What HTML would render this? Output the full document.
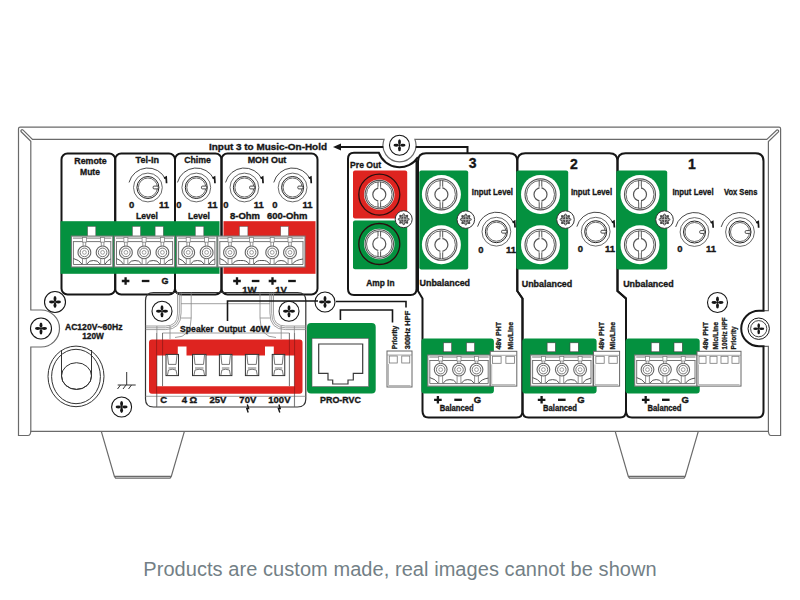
<!DOCTYPE html>
<html><head><meta charset="utf-8"><style>
html,body{margin:0;padding:0;background:#fff;}
body{width:800px;height:600px;position:relative;overflow:hidden;font-family:"Liberation Sans",sans-serif;}
svg{position:absolute;left:0;top:0;}
.cap{position:absolute;left:0;width:800px;top:557px;text-align:center;font-size:20px;letter-spacing:0.06px;color:#737f86;line-height:24px;white-space:nowrap;}
</style></head><body>
<svg width="800" height="600" viewBox="0 0 800 600" font-family="Liberation Sans, sans-serif">
<g fill="none" stroke="#6a6a6a" stroke-width="1.2">
<path d="M30.8,431.3 Q30.6,435.5 28,435.5 L18.5,435.5 L18.5,128.8 Q18.5,127.2 20.2,127.2 L779,127.2 Q780.6,127.2 780.6,128.8 L780.6,435.5 L771,435.5 Q768.6,435.5 768.4,431.3"/>
<path d="M30.8,432 L30.8,347 L41,347 A18.5,18.5 0 0 0 41,310 L30.8,310 L30.8,141.2 L21.2,131.8 A1.3,1.3 0 0 1 22.9,129.9 L32.5,139.4 L384.1,139.4 A16.5,16.5 0 1 0 414.9,139.4 L766.8,139.4 L776.8,130 A1.3,1.3 0 0 1 778.4,131.9 L768.4,141.6 L768.4,310.7 L764,310.7 M764,346.3 L768.4,346.3 L768.4,432"/>
<path d="M30.6,431.3 L768.6,431.3"/>
<path d="M101.3,431.3 L114.4,476.3 L171.3,476.3 L184.4,431.3 M114.4,476.3 L115.6,478.1 L170.1,478.1 L171.3,476.3"/>
<path d="M615.2,431.3 L628.3,476.3 L685.2,476.3 L698.3,431.3 M628.3,476.3 L629.5,478.1 L684,478.1 L685.2,476.3"/>
</g>
<g fill="none" stroke="#161616" stroke-width="2">
<rect x="61.5" y="153.5" width="53.7" height="141" rx="6"/>
<rect x="115.2" y="153.5" width="59.8" height="141" rx="6"/>
<rect x="175" y="153.5" width="46.5" height="141" rx="6"/>
<rect x="221.5" y="153.5" width="96.0" height="141" rx="6"/>
<path d="M348,159 Q348,152.7 354,152.7 L378.8,152.7 A22,22 0 0 0 418,157.1 M416.5,160 L416.5,289 Q416.5,295 410.5,295 L354,295 Q348,295 348,289 L348,159"/>
<path d="M422.5,411 L422.5,298.5 L418,291 L418,161.2 Q418,153.2 426,153.2 L509.29999999999995,153.2 Q517.3,153.2 517.3,161.2 L517.3,291 L522.5,298.5 L522.5,411 Q522.5,417.5 516.5,417.5 L428.5,417.5 Q422.5,417.5 422.5,411"/>
<path d="M522.5,411 L522.5,298.5 L517.3,291 L517.3,161.2 Q517.3,153.2 525.3,153.2 L609.5,153.2 Q617.5,153.2 617.5,161.2 L617.5,291 L626,298.5 L626,411 Q626,417.5 620,417.5 L528.5,417.5 Q522.5,417.5 522.5,411"/>
<path d="M626,411 L626,298.5 L617.5,291 L617.5,161.2 Q617.5,153.2 625.5,153.2 L755.5,153.2 Q763.5,153.2 763.5,161.2 L763.5,310.7 L759,310.7 A17.8,17.8 0 0 0 759,346.3 L763.5,346.3 L763.5,411 Q763.5,417.5 757.5,417.5 L632,417.5 Q626,417.5 626,411"/>
</g>
<path d="M340,147 L383.2,147 M415.8,147 L467.5,147 L467.5,153.2" fill="none" stroke="#161616" stroke-width="2"/>
<path d="M333,147 L341,143.5 L341,150.5 Z" fill="#161616"/>
<rect x="60.5" y="221.2" width="159" height="52.6" fill="#04913f"/>
<rect x="223.5" y="221.2" width="92" height="52.6" fill="#de2420"/>
<rect x="353" y="170.6" width="54.2" height="48" rx="2" fill="#de2420"/>
<rect x="353" y="220.6" width="54.2" height="48.6" rx="2" fill="#04913f"/>
<rect x="419.3" y="170.4" width="48.9" height="99.2" rx="2" fill="#04913f"/>
<rect x="516.3" y="170.4" width="51.9" height="99.2" rx="2" fill="#04913f"/>
<rect x="616.3" y="170.4" width="50.9" height="99.2" rx="2" fill="#04913f"/>
<rect x="421.4" y="338.4" width="72.5" height="55.1" rx="3" fill="#04913f"/>
<rect x="522.3" y="338.4" width="74.3" height="55.1" rx="3" fill="#04913f"/>
<rect x="625.5" y="338.4" width="74.2" height="55.1" rx="3" fill="#04913f"/>
<rect x="307" y="323" width="68.7" height="70.5" rx="4" fill="#04913f"/>
<circle cx="399.5" cy="145.3" r="10" fill="#fff" stroke="#161616" stroke-width="1.1"/>
<g fill="#161616"><ellipse cx="396.2" cy="145.3" rx="2.7" ry="1.45"/><ellipse cx="402.8" cy="145.3" rx="2.7" ry="1.45"/><ellipse cx="399.5" cy="142.0" rx="1.45" ry="2.7"/><ellipse cx="399.5" cy="148.60000000000002" rx="1.45" ry="2.7"/></g>
<path d="M398.3,145.3 L400.7,145.3 M399.5,144.10000000000002 L399.5,146.5" stroke="#161616" stroke-width="0.9"/>
<circle cx="41" cy="328.5" r="10.5" fill="#fff" stroke="#161616" stroke-width="1.1"/>
<g fill="#161616"><ellipse cx="37.7" cy="328.5" rx="2.7" ry="1.45"/><ellipse cx="44.3" cy="328.5" rx="2.7" ry="1.45"/><ellipse cx="41" cy="325.2" rx="1.45" ry="2.7"/><ellipse cx="41" cy="331.8" rx="1.45" ry="2.7"/></g>
<path d="M39.8,328.5 L42.2,328.5 M41,327.3 L41,329.7" stroke="#161616" stroke-width="0.9"/>
<circle cx="55" cy="302" r="10.5" fill="#fff" stroke="#161616" stroke-width="1.1"/>
<g fill="#161616"><ellipse cx="51.7" cy="302" rx="2.7" ry="1.45"/><ellipse cx="58.3" cy="302" rx="2.7" ry="1.45"/><ellipse cx="55" cy="298.7" rx="1.45" ry="2.7"/><ellipse cx="55" cy="305.3" rx="1.45" ry="2.7"/></g>
<path d="M53.8,302 L56.2,302 M55,300.8 L55,303.2" stroke="#161616" stroke-width="0.9"/>
<circle cx="121.6" cy="407" r="10" fill="#fff" stroke="#161616" stroke-width="1.1"/>
<g fill="#161616"><ellipse cx="118.3" cy="407" rx="2.7" ry="1.45"/><ellipse cx="124.89999999999999" cy="407" rx="2.7" ry="1.45"/><ellipse cx="121.6" cy="403.7" rx="1.45" ry="2.7"/><ellipse cx="121.6" cy="410.3" rx="1.45" ry="2.7"/></g>
<path d="M120.39999999999999,407 L122.8,407 M121.6,405.8 L121.6,408.2" stroke="#161616" stroke-width="0.9"/>
<circle cx="162" cy="311.3" r="10" fill="#fff" stroke="#161616" stroke-width="1.1"/>
<g fill="#161616"><ellipse cx="158.7" cy="311.3" rx="2.7" ry="1.45"/><ellipse cx="165.3" cy="311.3" rx="2.7" ry="1.45"/><ellipse cx="162" cy="308.0" rx="1.45" ry="2.7"/><ellipse cx="162" cy="314.6" rx="1.45" ry="2.7"/></g>
<path d="M160.8,311.3 L163.2,311.3 M162,310.1 L162,312.5" stroke="#161616" stroke-width="0.9"/>
<circle cx="289" cy="311.3" r="10" fill="#fff" stroke="#161616" stroke-width="1.1"/>
<g fill="#161616"><ellipse cx="285.7" cy="311.3" rx="2.7" ry="1.45"/><ellipse cx="292.3" cy="311.3" rx="2.7" ry="1.45"/><ellipse cx="289" cy="308.0" rx="1.45" ry="2.7"/><ellipse cx="289" cy="314.6" rx="1.45" ry="2.7"/></g>
<path d="M287.8,311.3 L290.2,311.3 M289,310.1 L289,312.5" stroke="#161616" stroke-width="0.9"/>
<circle cx="325" cy="302" r="10" fill="#fff" stroke="#161616" stroke-width="1.1"/>
<g fill="#161616"><ellipse cx="321.7" cy="302" rx="2.7" ry="1.45"/><ellipse cx="328.3" cy="302" rx="2.7" ry="1.45"/><ellipse cx="325" cy="298.7" rx="1.45" ry="2.7"/><ellipse cx="325" cy="305.3" rx="1.45" ry="2.7"/></g>
<path d="M323.8,302 L326.2,302 M325,300.8 L325,303.2" stroke="#161616" stroke-width="0.9"/>
<circle cx="717.5" cy="302.5" r="10" fill="#fff" stroke="#161616" stroke-width="1.1"/>
<g fill="#161616"><ellipse cx="714.2" cy="302.5" rx="2.7" ry="1.45"/><ellipse cx="720.8" cy="302.5" rx="2.7" ry="1.45"/><ellipse cx="717.5" cy="299.2" rx="1.45" ry="2.7"/><ellipse cx="717.5" cy="305.8" rx="1.45" ry="2.7"/></g>
<path d="M716.3,302.5 L718.7,302.5 M717.5,301.3 L717.5,303.7" stroke="#161616" stroke-width="0.9"/>
<circle cx="758.7" cy="328.7" r="10.7" fill="#fff" stroke="#161616" stroke-width="1"/>
<circle cx="758.7" cy="328.7" r="8.1" fill="none" stroke="#161616" stroke-width="0.8"/>
<g fill="#161616"><ellipse cx="755.7" cy="328.7" rx="2.5" ry="1.3"/><ellipse cx="761.7" cy="328.7" rx="2.5" ry="1.3"/><ellipse cx="758.7" cy="325.7" rx="1.3" ry="2.5"/><ellipse cx="758.7" cy="331.7" rx="1.3" ry="2.5"/></g>
<path d="M757.5,328.7 L759.9000000000001,328.7 M758.7,327.5 L758.7,329.9" stroke="#161616" stroke-width="0.9"/>
<path d="M129.06,182.45 A19.5,19.5 0 0 1 165.57,179.26" fill="none" stroke="#333" stroke-width="0.9"/>
<path d="M164.07,178.26 L166.17,177.06 L166.57,183.26" fill="none" stroke="#161616" stroke-width="1.7"/>
<circle cx="147.9" cy="187.5" r="14.4" fill="none" stroke="#444" stroke-width="0.8"/>
<circle cx="147.9" cy="187.5" r="11" fill="#fff" stroke="#222" stroke-width="1.0"/>
<circle cx="147.9" cy="187.5" r="9.5" fill="none" stroke="#444" stroke-width="0.8"/>
<rect x="153.1" y="186.1" width="5.2" height="2.8" rx="1" fill="#fff" stroke="#333" stroke-width="0.9"/>
<path d="M177.46,182.45 A19.5,19.5 0 0 1 213.97,179.26" fill="none" stroke="#333" stroke-width="0.9"/>
<path d="M212.47,178.26 L214.57,177.06 L214.97,183.26" fill="none" stroke="#161616" stroke-width="1.7"/>
<circle cx="196.3" cy="187.5" r="14.4" fill="none" stroke="#444" stroke-width="0.8"/>
<circle cx="196.3" cy="187.5" r="11" fill="#fff" stroke="#222" stroke-width="1.0"/>
<circle cx="196.3" cy="187.5" r="9.5" fill="none" stroke="#444" stroke-width="0.8"/>
<rect x="201.5" y="186.1" width="5.2" height="2.8" rx="1" fill="#fff" stroke="#333" stroke-width="0.9"/>
<path d="M225.56,182.45 A19.5,19.5 0 0 1 262.07,179.26" fill="none" stroke="#333" stroke-width="0.9"/>
<path d="M260.57,178.26 L262.67,177.06 L263.07,183.26" fill="none" stroke="#161616" stroke-width="1.7"/>
<circle cx="244.4" cy="187.5" r="14.4" fill="none" stroke="#444" stroke-width="0.8"/>
<circle cx="244.4" cy="187.5" r="11" fill="#fff" stroke="#222" stroke-width="1.0"/>
<circle cx="244.4" cy="187.5" r="9.5" fill="none" stroke="#444" stroke-width="0.8"/>
<rect x="249.6" y="186.1" width="5.2" height="2.8" rx="1" fill="#fff" stroke="#333" stroke-width="0.9"/>
<path d="M273.76,182.45 A19.5,19.5 0 0 1 310.27,179.26" fill="none" stroke="#333" stroke-width="0.9"/>
<path d="M308.77,178.26 L310.87,177.06 L311.27,183.26" fill="none" stroke="#161616" stroke-width="1.7"/>
<circle cx="292.6" cy="187.5" r="14.4" fill="none" stroke="#444" stroke-width="0.8"/>
<circle cx="292.6" cy="187.5" r="11" fill="#fff" stroke="#222" stroke-width="1.0"/>
<circle cx="292.6" cy="187.5" r="9.5" fill="none" stroke="#444" stroke-width="0.8"/>
<rect x="297.8" y="186.1" width="5.2" height="2.8" rx="1" fill="#fff" stroke="#333" stroke-width="0.9"/>
<path d="M477.56,226.65 A19.5,19.5 0 0 1 514.07,223.46" fill="none" stroke="#333" stroke-width="0.9"/>
<path d="M512.57,222.46 L514.67,221.26 L515.07,227.46" fill="none" stroke="#161616" stroke-width="1.7"/>
<circle cx="496.4" cy="231.7" r="14.4" fill="none" stroke="#444" stroke-width="0.8"/>
<circle cx="496.4" cy="231.7" r="11" fill="#fff" stroke="#222" stroke-width="1.0"/>
<circle cx="496.4" cy="231.7" r="9.5" fill="none" stroke="#444" stroke-width="0.8"/>
<rect x="501.59999999999997" y="230.29999999999998" width="5.2" height="2.8" rx="1" fill="#fff" stroke="#333" stroke-width="0.9"/>
<path d="M576.86,226.65 A19.5,19.5 0 0 1 613.37,223.46" fill="none" stroke="#333" stroke-width="0.9"/>
<path d="M611.87,222.46 L613.97,221.26 L614.37,227.46" fill="none" stroke="#161616" stroke-width="1.7"/>
<circle cx="595.7" cy="231.7" r="14.4" fill="none" stroke="#444" stroke-width="0.8"/>
<circle cx="595.7" cy="231.7" r="11" fill="#fff" stroke="#222" stroke-width="1.0"/>
<circle cx="595.7" cy="231.7" r="9.5" fill="none" stroke="#444" stroke-width="0.8"/>
<rect x="600.9000000000001" y="230.29999999999998" width="5.2" height="2.8" rx="1" fill="#fff" stroke="#333" stroke-width="0.9"/>
<path d="M675.66,226.95 A19.5,19.5 0 0 1 712.17,223.76" fill="none" stroke="#333" stroke-width="0.9"/>
<path d="M710.67,222.76 L712.77,221.56 L713.17,227.76" fill="none" stroke="#161616" stroke-width="1.7"/>
<circle cx="694.5" cy="232" r="14.4" fill="none" stroke="#444" stroke-width="0.8"/>
<circle cx="694.5" cy="232" r="11" fill="#fff" stroke="#222" stroke-width="1.0"/>
<circle cx="694.5" cy="232" r="9.5" fill="none" stroke="#444" stroke-width="0.8"/>
<rect x="699.7" y="230.6" width="5.2" height="2.8" rx="1" fill="#fff" stroke="#333" stroke-width="0.9"/>
<path d="M721.16,226.95 A19.5,19.5 0 0 1 757.67,223.76" fill="none" stroke="#333" stroke-width="0.9"/>
<path d="M756.17,222.76 L758.27,221.56 L758.67,227.76" fill="none" stroke="#161616" stroke-width="1.7"/>
<circle cx="740" cy="232" r="14.4" fill="none" stroke="#444" stroke-width="0.8"/>
<circle cx="740" cy="232" r="11" fill="#fff" stroke="#222" stroke-width="1.0"/>
<circle cx="740" cy="232" r="9.5" fill="none" stroke="#444" stroke-width="0.8"/>
<rect x="745.2" y="230.6" width="5.2" height="2.8" rx="1" fill="#fff" stroke="#333" stroke-width="0.9"/>
<circle cx="379.3" cy="194.6" r="20.5" fill="none" stroke="#2a0f0f" stroke-width="1.3"/>
<circle cx="379.3" cy="194.6" r="15.2" fill="#fff"/>
<circle cx="379.3" cy="194.6" r="14.2" fill="none" stroke="#555" stroke-width="1.1"/>
<circle cx="379.3" cy="194.6" r="12.8" fill="none" stroke="#666" stroke-width="1"/>
<circle cx="379.3" cy="194.6" r="6.5" fill="none" stroke="#555" stroke-width="1.2"/>
<path d="M378.0,188.1 L378.0,181.79999999999998 M380.6,188.1 L380.6,181.79999999999998 M378.0,201.1 L378.0,207.4 M380.6,201.1 L380.6,207.4" stroke="#555" stroke-width="1"/>
<rect x="378.3" y="186.6" width="2" height="3" fill="#fff"/>
<rect x="378.3" y="199.6" width="2" height="3" fill="#fff"/>
<circle cx="379.3" cy="244" r="20.5" fill="none" stroke="#2a0f0f" stroke-width="1.3"/>
<circle cx="379.3" cy="244" r="15.2" fill="#fff"/>
<circle cx="379.3" cy="244" r="14.2" fill="none" stroke="#555" stroke-width="1.1"/>
<circle cx="379.3" cy="244" r="12.8" fill="none" stroke="#666" stroke-width="1"/>
<circle cx="379.3" cy="244" r="6.5" fill="none" stroke="#555" stroke-width="1.2"/>
<path d="M378.0,237.5 L378.0,231.2 M380.6,237.5 L380.6,231.2 M378.0,250.5 L378.0,256.8 M380.6,250.5 L380.6,256.8" stroke="#555" stroke-width="1"/>
<rect x="378.3" y="236.0" width="2" height="3" fill="#fff"/>
<rect x="378.3" y="249.0" width="2" height="3" fill="#fff"/>
<circle cx="441.4" cy="194.4" r="19.5" fill="#fff"/>
<circle cx="441.4" cy="194.4" r="15.5" fill="none" stroke="#555" stroke-width="1.1"/>
<circle cx="441.4" cy="194.4" r="14" fill="none" stroke="#666" stroke-width="1"/>
<circle cx="441.4" cy="194.4" r="6.5" fill="none" stroke="#555" stroke-width="1.2"/>
<path d="M440.09999999999997,187.9 L440.09999999999997,180.4 M442.7,187.9 L442.7,180.4 M440.09999999999997,200.9 L440.09999999999997,208.4 M442.7,200.9 L442.7,208.4" stroke="#555" stroke-width="1"/>
<rect x="440.4" y="186.4" width="2" height="3" fill="#fff"/>
<rect x="440.4" y="199.4" width="2" height="3" fill="#fff"/>
<circle cx="441.4" cy="244.8" r="19.5" fill="#fff"/>
<circle cx="441.4" cy="244.8" r="15.5" fill="none" stroke="#555" stroke-width="1.1"/>
<circle cx="441.4" cy="244.8" r="14" fill="none" stroke="#666" stroke-width="1"/>
<circle cx="441.4" cy="244.8" r="6.5" fill="none" stroke="#555" stroke-width="1.2"/>
<path d="M440.09999999999997,238.3 L440.09999999999997,230.8 M442.7,238.3 L442.7,230.8 M440.09999999999997,251.3 L440.09999999999997,258.8 M442.7,251.3 L442.7,258.8" stroke="#555" stroke-width="1"/>
<rect x="440.4" y="236.8" width="2" height="3" fill="#fff"/>
<rect x="440.4" y="249.8" width="2" height="3" fill="#fff"/>
<circle cx="540.5" cy="194.4" r="19.5" fill="#fff"/>
<circle cx="540.5" cy="194.4" r="15.5" fill="none" stroke="#555" stroke-width="1.1"/>
<circle cx="540.5" cy="194.4" r="14" fill="none" stroke="#666" stroke-width="1"/>
<circle cx="540.5" cy="194.4" r="6.5" fill="none" stroke="#555" stroke-width="1.2"/>
<path d="M539.2,187.9 L539.2,180.4 M541.8,187.9 L541.8,180.4 M539.2,200.9 L539.2,208.4 M541.8,200.9 L541.8,208.4" stroke="#555" stroke-width="1"/>
<rect x="539.5" y="186.4" width="2" height="3" fill="#fff"/>
<rect x="539.5" y="199.4" width="2" height="3" fill="#fff"/>
<circle cx="540.5" cy="244.8" r="19.5" fill="#fff"/>
<circle cx="540.5" cy="244.8" r="15.5" fill="none" stroke="#555" stroke-width="1.1"/>
<circle cx="540.5" cy="244.8" r="14" fill="none" stroke="#666" stroke-width="1"/>
<circle cx="540.5" cy="244.8" r="6.5" fill="none" stroke="#555" stroke-width="1.2"/>
<path d="M539.2,238.3 L539.2,230.8 M541.8,238.3 L541.8,230.8 M539.2,251.3 L539.2,258.8 M541.8,251.3 L541.8,258.8" stroke="#555" stroke-width="1"/>
<rect x="539.5" y="236.8" width="2" height="3" fill="#fff"/>
<rect x="539.5" y="249.8" width="2" height="3" fill="#fff"/>
<circle cx="640" cy="194.4" r="19.5" fill="#fff"/>
<circle cx="640" cy="194.4" r="15.5" fill="none" stroke="#555" stroke-width="1.1"/>
<circle cx="640" cy="194.4" r="14" fill="none" stroke="#666" stroke-width="1"/>
<circle cx="640" cy="194.4" r="6.5" fill="none" stroke="#555" stroke-width="1.2"/>
<path d="M638.7,187.9 L638.7,180.4 M641.3,187.9 L641.3,180.4 M638.7,200.9 L638.7,208.4 M641.3,200.9 L641.3,208.4" stroke="#555" stroke-width="1"/>
<rect x="639.0" y="186.4" width="2" height="3" fill="#fff"/>
<rect x="639.0" y="199.4" width="2" height="3" fill="#fff"/>
<circle cx="640" cy="244.8" r="19.5" fill="#fff"/>
<circle cx="640" cy="244.8" r="15.5" fill="none" stroke="#555" stroke-width="1.1"/>
<circle cx="640" cy="244.8" r="14" fill="none" stroke="#666" stroke-width="1"/>
<circle cx="640" cy="244.8" r="6.5" fill="none" stroke="#555" stroke-width="1.2"/>
<path d="M638.7,238.3 L638.7,230.8 M641.3,238.3 L641.3,230.8 M638.7,251.3 L638.7,258.8 M641.3,251.3 L641.3,258.8" stroke="#555" stroke-width="1"/>
<rect x="639.0" y="236.8" width="2" height="3" fill="#fff"/>
<rect x="639.0" y="249.8" width="2" height="3" fill="#fff"/>
<circle cx="403.7" cy="219.2" r="8.5" fill="#fff" stroke="#333" stroke-width="1"/>
<g transform="translate(403.7,219.2)" fill="#4a4a4a"><ellipse cx="0" cy="0" rx="6" ry="2.1" transform="rotate(0)"/><ellipse cx="0" cy="0" rx="6" ry="2.1" transform="rotate(45)"/><ellipse cx="0" cy="0" rx="6" ry="2.1" transform="rotate(90)"/><ellipse cx="0" cy="0" rx="6" ry="2.1" transform="rotate(135)"/></g>
<path d="M398.7,219.2 L408.7,219.2 M403.7,214.2 L403.7,224.2" stroke="#ddd" stroke-width="0.7"/>
<circle cx="403.7" cy="219.2" r="3.2" fill="none" stroke="#ccc" stroke-width="0.6"/>
<circle cx="465.8" cy="219.6" r="8.8" fill="#fff" stroke="#333" stroke-width="1"/>
<g transform="translate(465.8,219.6)" fill="#4a4a4a"><ellipse cx="0" cy="0" rx="6" ry="2.1" transform="rotate(0)"/><ellipse cx="0" cy="0" rx="6" ry="2.1" transform="rotate(45)"/><ellipse cx="0" cy="0" rx="6" ry="2.1" transform="rotate(90)"/><ellipse cx="0" cy="0" rx="6" ry="2.1" transform="rotate(135)"/></g>
<path d="M460.8,219.6 L470.8,219.6 M465.8,214.6 L465.8,224.6" stroke="#ddd" stroke-width="0.7"/>
<circle cx="465.8" cy="219.6" r="3.2" fill="none" stroke="#ccc" stroke-width="0.6"/>
<circle cx="565.5" cy="219.6" r="8.8" fill="#fff" stroke="#333" stroke-width="1"/>
<g transform="translate(565.5,219.6)" fill="#4a4a4a"><ellipse cx="0" cy="0" rx="6" ry="2.1" transform="rotate(0)"/><ellipse cx="0" cy="0" rx="6" ry="2.1" transform="rotate(45)"/><ellipse cx="0" cy="0" rx="6" ry="2.1" transform="rotate(90)"/><ellipse cx="0" cy="0" rx="6" ry="2.1" transform="rotate(135)"/></g>
<path d="M560.5,219.6 L570.5,219.6 M565.5,214.6 L565.5,224.6" stroke="#ddd" stroke-width="0.7"/>
<circle cx="565.5" cy="219.6" r="3.2" fill="none" stroke="#ccc" stroke-width="0.6"/>
<circle cx="664.5" cy="219.6" r="8.8" fill="#fff" stroke="#333" stroke-width="1"/>
<g transform="translate(664.5,219.6)" fill="#4a4a4a"><ellipse cx="0" cy="0" rx="6" ry="2.1" transform="rotate(0)"/><ellipse cx="0" cy="0" rx="6" ry="2.1" transform="rotate(45)"/><ellipse cx="0" cy="0" rx="6" ry="2.1" transform="rotate(90)"/><ellipse cx="0" cy="0" rx="6" ry="2.1" transform="rotate(135)"/></g>
<path d="M659.5,219.6 L669.5,219.6 M664.5,214.6 L664.5,224.6" stroke="#ddd" stroke-width="0.7"/>
<circle cx="664.5" cy="219.6" r="3.2" fill="none" stroke="#ccc" stroke-width="0.6"/>
<rect x="87.6" y="226.4" width="8.200000000000003" height="10" fill="#fff" stroke="#555" stroke-width="0.5"/>
<rect x="132.4" y="226.4" width="8.099999999999994" height="10" fill="#fff" stroke="#555" stroke-width="0.5"/>
<rect x="155.1" y="226.4" width="8.200000000000017" height="10" fill="#fff" stroke="#555" stroke-width="0.5"/>
<rect x="195.3" y="226.4" width="8.5" height="10" fill="#fff" stroke="#555" stroke-width="0.5"/>
<rect x="239.4" y="226.4" width="8.5" height="10" fill="#fff" stroke="#555" stroke-width="0.5"/>
<rect x="280.7" y="226.4" width="7.800000000000011" height="10" fill="#fff" stroke="#555" stroke-width="0.5"/>
<rect x="71.4" y="236.1" width="41.39999999999999" height="30.900000000000006" fill="#fff" stroke="#777" stroke-width="1.1"/>
<path d="M72.9,238.1 L111.3,238.1 M72.9,241.6 L111.3,241.6" stroke="#666" stroke-width="0.9"/>
<path d="M73.4,241.6 L73.4,264.5 L110.8,264.5 L110.8,241.6" fill="none" stroke="#666" stroke-width="0.9"/>
<rect x="82.4" y="237.6" width="4" height="4.5" fill="#fff" stroke="#777" stroke-width="0.7"/>
<path d="M83.10000000000001,242.1 L83.10000000000001,246.3843 M85.7,242.1 L85.7,246.3843 M82.5,258.3843 L82.5,264.5 M86.30000000000001,258.3843 L86.30000000000001,264.5" stroke="#777" stroke-width="0.8"/>
<circle cx="84.4" cy="252.3843" r="6.4" fill="#fff" stroke="#666" stroke-width="1.1"/>
<circle cx="84.4" cy="252.3843" r="4.3" fill="none" stroke="#777" stroke-width="1"/>
<circle cx="84.4" cy="252.3843" r="1.9" fill="none" stroke="#888" stroke-width="0.8"/>
<rect x="100.6" y="237.6" width="4" height="4.5" fill="#fff" stroke="#777" stroke-width="0.7"/>
<path d="M101.3,242.1 L101.3,246.3843 M103.89999999999999,242.1 L103.89999999999999,246.3843 M100.69999999999999,258.3843 L100.69999999999999,264.5 M104.5,258.3843 L104.5,264.5" stroke="#777" stroke-width="0.8"/>
<circle cx="102.6" cy="252.3843" r="6.4" fill="#fff" stroke="#666" stroke-width="1.1"/>
<circle cx="102.6" cy="252.3843" r="4.3" fill="none" stroke="#777" stroke-width="1"/>
<circle cx="102.6" cy="252.3843" r="1.9" fill="none" stroke="#888" stroke-width="0.8"/>
<path d="M73.4,258.5 Q79.4,260 81.9,264 M86.9,264 Q89.4,260 93.5,260.5 Q97.6,260 100.1,264 M105.1,264 Q107.6,260 110.8,259" fill="none" stroke="#555" stroke-width="1"/>
<rect x="114.5" y="236.1" width="60.099999999999994" height="30.900000000000006" fill="#fff" stroke="#777" stroke-width="1.1"/>
<path d="M116.0,238.1 L173.1,238.1 M116.0,241.6 L173.1,241.6" stroke="#666" stroke-width="0.9"/>
<path d="M116.5,241.6 L116.5,264.5 L172.6,264.5 L172.6,241.6" fill="none" stroke="#666" stroke-width="0.9"/>
<rect x="123.9" y="237.6" width="4" height="4.5" fill="#fff" stroke="#777" stroke-width="0.7"/>
<path d="M124.60000000000001,242.1 L124.60000000000001,246.3843 M127.2,242.1 L127.2,246.3843 M124.0,258.3843 L124.0,264.5 M127.80000000000001,258.3843 L127.80000000000001,264.5" stroke="#777" stroke-width="0.8"/>
<circle cx="125.9" cy="252.3843" r="6.4" fill="#fff" stroke="#666" stroke-width="1.1"/>
<circle cx="125.9" cy="252.3843" r="4.3" fill="none" stroke="#777" stroke-width="1"/>
<circle cx="125.9" cy="252.3843" r="1.9" fill="none" stroke="#888" stroke-width="0.8"/>
<rect x="142.1" y="237.6" width="4" height="4.5" fill="#fff" stroke="#777" stroke-width="0.7"/>
<path d="M142.79999999999998,242.1 L142.79999999999998,246.3843 M145.4,242.1 L145.4,246.3843 M142.2,258.3843 L142.2,264.5 M146.0,258.3843 L146.0,264.5" stroke="#777" stroke-width="0.8"/>
<circle cx="144.1" cy="252.3843" r="6.4" fill="#fff" stroke="#666" stroke-width="1.1"/>
<circle cx="144.1" cy="252.3843" r="4.3" fill="none" stroke="#777" stroke-width="1"/>
<circle cx="144.1" cy="252.3843" r="1.9" fill="none" stroke="#888" stroke-width="0.8"/>
<rect x="160.4" y="237.6" width="4" height="4.5" fill="#fff" stroke="#777" stroke-width="0.7"/>
<path d="M161.1,242.1 L161.1,246.3843 M163.70000000000002,242.1 L163.70000000000002,246.3843 M160.5,258.3843 L160.5,264.5 M164.3,258.3843 L164.3,264.5" stroke="#777" stroke-width="0.8"/>
<circle cx="162.4" cy="252.3843" r="6.4" fill="#fff" stroke="#666" stroke-width="1.1"/>
<circle cx="162.4" cy="252.3843" r="4.3" fill="none" stroke="#777" stroke-width="1"/>
<circle cx="162.4" cy="252.3843" r="1.9" fill="none" stroke="#888" stroke-width="0.8"/>
<path d="M116.5,258.5 Q120.9,260 123.4,264 M128.4,264 Q130.9,260 135.0,260.5 Q139.1,260 141.6,264 M146.6,264 Q149.1,260 153.25,260.5 Q157.4,260 159.9,264 M164.9,264 Q167.4,260 172.6,259" fill="none" stroke="#555" stroke-width="1"/>
<rect x="176.6" y="236.1" width="40.30000000000001" height="30.900000000000006" fill="#fff" stroke="#777" stroke-width="1.1"/>
<path d="M178.1,238.1 L215.4,238.1 M178.1,241.6 L215.4,241.6" stroke="#666" stroke-width="0.9"/>
<path d="M178.6,241.6 L178.6,264.5 L214.9,264.5 L214.9,241.6" fill="none" stroke="#666" stroke-width="0.9"/>
<rect x="186.2" y="237.6" width="4" height="4.5" fill="#fff" stroke="#777" stroke-width="0.7"/>
<path d="M186.89999999999998,242.1 L186.89999999999998,246.3843 M189.5,242.1 L189.5,246.3843 M186.29999999999998,258.3843 L186.29999999999998,264.5 M190.1,258.3843 L190.1,264.5" stroke="#777" stroke-width="0.8"/>
<circle cx="188.2" cy="252.3843" r="6.4" fill="#fff" stroke="#666" stroke-width="1.1"/>
<circle cx="188.2" cy="252.3843" r="4.3" fill="none" stroke="#777" stroke-width="1"/>
<circle cx="188.2" cy="252.3843" r="1.9" fill="none" stroke="#888" stroke-width="0.8"/>
<rect x="204.6" y="237.6" width="4" height="4.5" fill="#fff" stroke="#777" stroke-width="0.7"/>
<path d="M205.29999999999998,242.1 L205.29999999999998,246.3843 M207.9,242.1 L207.9,246.3843 M204.7,258.3843 L204.7,264.5 M208.5,258.3843 L208.5,264.5" stroke="#777" stroke-width="0.8"/>
<circle cx="206.6" cy="252.3843" r="6.4" fill="#fff" stroke="#666" stroke-width="1.1"/>
<circle cx="206.6" cy="252.3843" r="4.3" fill="none" stroke="#777" stroke-width="1"/>
<circle cx="206.6" cy="252.3843" r="1.9" fill="none" stroke="#888" stroke-width="0.8"/>
<path d="M178.6,258.5 Q183.2,260 185.7,264 M190.7,264 Q193.2,260 197.39999999999998,260.5 Q201.6,260 204.1,264 M209.1,264 Q211.6,260 214.9,259" fill="none" stroke="#555" stroke-width="1"/>
<rect x="217.8" y="236.1" width="87.19999999999999" height="30.900000000000006" fill="#fff" stroke="#777" stroke-width="1.1"/>
<path d="M219.3,238.1 L303.5,238.1 M219.3,241.6 L303.5,241.6" stroke="#666" stroke-width="0.9"/>
<path d="M219.8,241.6 L219.8,264.5 L303,264.5 L303,241.6" fill="none" stroke="#666" stroke-width="0.9"/>
<rect x="228" y="237.6" width="4" height="4.5" fill="#fff" stroke="#777" stroke-width="0.7"/>
<path d="M228.7,242.1 L228.7,246.3843 M231.3,242.1 L231.3,246.3843 M228.1,258.3843 L228.1,264.5 M231.9,258.3843 L231.9,264.5" stroke="#777" stroke-width="0.8"/>
<circle cx="230" cy="252.3843" r="6.4" fill="#fff" stroke="#666" stroke-width="1.1"/>
<circle cx="230" cy="252.3843" r="4.3" fill="none" stroke="#777" stroke-width="1"/>
<circle cx="230" cy="252.3843" r="1.9" fill="none" stroke="#888" stroke-width="0.8"/>
<rect x="249.6" y="237.6" width="4" height="4.5" fill="#fff" stroke="#777" stroke-width="0.7"/>
<path d="M250.29999999999998,242.1 L250.29999999999998,246.3843 M252.9,242.1 L252.9,246.3843 M249.7,258.3843 L249.7,264.5 M253.5,258.3843 L253.5,264.5" stroke="#777" stroke-width="0.8"/>
<circle cx="251.6" cy="252.3843" r="6.4" fill="#fff" stroke="#666" stroke-width="1.1"/>
<circle cx="251.6" cy="252.3843" r="4.3" fill="none" stroke="#777" stroke-width="1"/>
<circle cx="251.6" cy="252.3843" r="1.9" fill="none" stroke="#888" stroke-width="0.8"/>
<rect x="270.2" y="237.6" width="4" height="4.5" fill="#fff" stroke="#777" stroke-width="0.7"/>
<path d="M270.9,242.1 L270.9,246.3843 M273.5,242.1 L273.5,246.3843 M270.3,258.3843 L270.3,264.5 M274.09999999999997,258.3843 L274.09999999999997,264.5" stroke="#777" stroke-width="0.8"/>
<circle cx="272.2" cy="252.3843" r="6.4" fill="#fff" stroke="#666" stroke-width="1.1"/>
<circle cx="272.2" cy="252.3843" r="4.3" fill="none" stroke="#777" stroke-width="1"/>
<circle cx="272.2" cy="252.3843" r="1.9" fill="none" stroke="#888" stroke-width="0.8"/>
<rect x="288" y="237.6" width="4" height="4.5" fill="#fff" stroke="#777" stroke-width="0.7"/>
<path d="M288.7,242.1 L288.7,246.3843 M291.3,242.1 L291.3,246.3843 M288.1,258.3843 L288.1,264.5 M291.9,258.3843 L291.9,264.5" stroke="#777" stroke-width="0.8"/>
<circle cx="290" cy="252.3843" r="6.4" fill="#fff" stroke="#666" stroke-width="1.1"/>
<circle cx="290" cy="252.3843" r="4.3" fill="none" stroke="#777" stroke-width="1"/>
<circle cx="290" cy="252.3843" r="1.9" fill="none" stroke="#888" stroke-width="0.8"/>
<path d="M219.8,258.5 Q225,260 227.5,264 M232.5,264 Q235,260 240.8,260.5 Q246.6,260 249.1,264 M254.1,264 Q256.6,260 261.9,260.5 Q267.2,260 269.7,264 M274.7,264 Q277.2,260 281.1,260.5 Q285,260 287.5,264 M292.5,264 Q295,260 303,259" fill="none" stroke="#555" stroke-width="1"/>
<rect x="443.4" y="342.8" width="8.300000000000011" height="9" fill="#fff" stroke="#444" stroke-width="0.6"/>
<rect x="466.4" y="342.8" width="8.200000000000045" height="9" fill="#fff" stroke="#444" stroke-width="0.6"/>
<rect x="427.8" y="355" width="62.39999999999998" height="31.100000000000023" fill="#fff" stroke="#777" stroke-width="1.1"/>
<path d="M429.3,357 L488.7,357 M429.3,360.5 L488.7,360.5" stroke="#666" stroke-width="0.9"/>
<path d="M429.8,360.5 L429.8,383.6 L488.2,383.6 L488.2,360.5" fill="none" stroke="#666" stroke-width="0.9"/>
<rect x="438.7" y="356.5" width="4" height="4.5" fill="#fff" stroke="#777" stroke-width="0.7"/>
<path d="M439.4,361 L439.4,363.617 M442.0,361 L442.0,363.617 M438.8,375.617 L438.8,383.6 M442.59999999999997,375.617 L442.59999999999997,383.6" stroke="#777" stroke-width="0.8"/>
<circle cx="440.7" cy="369.617" r="6.4" fill="#fff" stroke="#666" stroke-width="1.1"/>
<circle cx="440.7" cy="369.617" r="4.3" fill="none" stroke="#777" stroke-width="1"/>
<circle cx="440.7" cy="369.617" r="1.9" fill="none" stroke="#888" stroke-width="0.8"/>
<rect x="457" y="356.5" width="4" height="4.5" fill="#fff" stroke="#777" stroke-width="0.7"/>
<path d="M457.7,361 L457.7,363.617 M460.3,361 L460.3,363.617 M457.1,375.617 L457.1,383.6 M460.9,375.617 L460.9,383.6" stroke="#777" stroke-width="0.8"/>
<circle cx="459" cy="369.617" r="6.4" fill="#fff" stroke="#666" stroke-width="1.1"/>
<circle cx="459" cy="369.617" r="4.3" fill="none" stroke="#777" stroke-width="1"/>
<circle cx="459" cy="369.617" r="1.9" fill="none" stroke="#888" stroke-width="0.8"/>
<rect x="474.5" y="356.5" width="4" height="4.5" fill="#fff" stroke="#777" stroke-width="0.7"/>
<path d="M475.2,361 L475.2,363.617 M477.8,361 L477.8,363.617 M474.6,375.617 L474.6,383.6 M478.4,375.617 L478.4,383.6" stroke="#777" stroke-width="0.8"/>
<circle cx="476.5" cy="369.617" r="6.4" fill="#fff" stroke="#666" stroke-width="1.1"/>
<circle cx="476.5" cy="369.617" r="4.3" fill="none" stroke="#777" stroke-width="1"/>
<circle cx="476.5" cy="369.617" r="1.9" fill="none" stroke="#888" stroke-width="0.8"/>
<path d="M429.8,377.6 Q435.7,379.1 438.2,383.1 M443.2,383.1 Q445.7,379.1 449.85,379.6 Q454,379.1 456.5,383.1 M461.5,383.1 Q464,379.1 467.75,379.6 Q471.5,379.1 474.0,383.1 M479.0,383.1 Q481.5,379.1 488.2,378.1" fill="none" stroke="#555" stroke-width="1"/>
<rect x="490.2" y="351.3" width="26.599999999999966" height="34.80000000000001" fill="#fff" stroke="#666" stroke-width="1"/>
<path d="M490.2,355.3 L516.8,355.3" stroke="#888" stroke-width="0.7"/>
<rect x="492.59" y="356.3" width="8.51" height="7" fill="#fff" stroke="#777" stroke-width="0.8"/>
<rect x="505.89" y="356.3" width="8.51" height="7" fill="#fff" stroke="#777" stroke-width="0.8"/>
<path d="M491.7,364.3 L491.7,384.6 L515.3,384.6" fill="none" stroke="#999" stroke-width="0.7"/>
<rect x="547.1" y="342.8" width="8.299999999999955" height="9" fill="#fff" stroke="#444" stroke-width="0.6"/>
<rect x="570" y="342.8" width="8.299999999999955" height="9" fill="#fff" stroke="#444" stroke-width="0.6"/>
<rect x="530.6" y="355" width="62.39999999999998" height="31.100000000000023" fill="#fff" stroke="#777" stroke-width="1.1"/>
<path d="M532.1,357 L591.5,357 M532.1,360.5 L591.5,360.5" stroke="#666" stroke-width="0.9"/>
<path d="M532.6,360.5 L532.6,383.6 L591,383.6 L591,360.5" fill="none" stroke="#666" stroke-width="0.9"/>
<rect x="541.4" y="356.5" width="4" height="4.5" fill="#fff" stroke="#777" stroke-width="0.7"/>
<path d="M542.1,361 L542.1,363.617 M544.6999999999999,361 L544.6999999999999,363.617 M541.5,375.617 L541.5,383.6 M545.3,375.617 L545.3,383.6" stroke="#777" stroke-width="0.8"/>
<circle cx="543.4" cy="369.617" r="6.4" fill="#fff" stroke="#666" stroke-width="1.1"/>
<circle cx="543.4" cy="369.617" r="4.3" fill="none" stroke="#777" stroke-width="1"/>
<circle cx="543.4" cy="369.617" r="1.9" fill="none" stroke="#888" stroke-width="0.8"/>
<rect x="559.8" y="356.5" width="4" height="4.5" fill="#fff" stroke="#777" stroke-width="0.7"/>
<path d="M560.5,361 L560.5,363.617 M563.0999999999999,361 L563.0999999999999,363.617 M559.9,375.617 L559.9,383.6 M563.6999999999999,375.617 L563.6999999999999,383.6" stroke="#777" stroke-width="0.8"/>
<circle cx="561.8" cy="369.617" r="6.4" fill="#fff" stroke="#666" stroke-width="1.1"/>
<circle cx="561.8" cy="369.617" r="4.3" fill="none" stroke="#777" stroke-width="1"/>
<circle cx="561.8" cy="369.617" r="1.9" fill="none" stroke="#888" stroke-width="0.8"/>
<rect x="578.1" y="356.5" width="4" height="4.5" fill="#fff" stroke="#777" stroke-width="0.7"/>
<path d="M578.8000000000001,361 L578.8000000000001,363.617 M581.4,361 L581.4,363.617 M578.2,375.617 L578.2,383.6 M582.0,375.617 L582.0,383.6" stroke="#777" stroke-width="0.8"/>
<circle cx="580.1" cy="369.617" r="6.4" fill="#fff" stroke="#666" stroke-width="1.1"/>
<circle cx="580.1" cy="369.617" r="4.3" fill="none" stroke="#777" stroke-width="1"/>
<circle cx="580.1" cy="369.617" r="1.9" fill="none" stroke="#888" stroke-width="0.8"/>
<path d="M532.6,377.6 Q538.4,379.1 540.9,383.1 M545.9,383.1 Q548.4,379.1 552.5999999999999,379.6 Q556.8,379.1 559.3,383.1 M564.3,383.1 Q566.8,379.1 570.95,379.6 Q575.1,379.1 577.6,383.1 M582.6,383.1 Q585.1,379.1 591,378.1" fill="none" stroke="#555" stroke-width="1"/>
<rect x="593.5" y="351.3" width="26.100000000000023" height="34.80000000000001" fill="#fff" stroke="#666" stroke-width="1"/>
<path d="M593.5,355.3 L619.6,355.3" stroke="#888" stroke-width="0.7"/>
<rect x="595.85" y="356.3" width="8.35" height="7" fill="#fff" stroke="#777" stroke-width="0.8"/>
<rect x="608.90" y="356.3" width="8.35" height="7" fill="#fff" stroke="#777" stroke-width="0.8"/>
<path d="M595.0,364.3 L595.0,384.6 L618.1,384.6" fill="none" stroke="#999" stroke-width="0.7"/>
<rect x="651.2" y="342.8" width="8.199999999999932" height="9" fill="#fff" stroke="#444" stroke-width="0.6"/>
<rect x="674" y="342.8" width="8.299999999999955" height="9" fill="#fff" stroke="#444" stroke-width="0.6"/>
<rect x="634.7" y="355" width="62.299999999999955" height="31.100000000000023" fill="#fff" stroke="#777" stroke-width="1.1"/>
<path d="M636.2,357 L695.5,357 M636.2,360.5 L695.5,360.5" stroke="#666" stroke-width="0.9"/>
<path d="M636.7,360.5 L636.7,383.6 L695,383.6 L695,360.5" fill="none" stroke="#666" stroke-width="0.9"/>
<rect x="645.5" y="356.5" width="4" height="4.5" fill="#fff" stroke="#777" stroke-width="0.7"/>
<path d="M646.2,361 L646.2,363.617 M648.8,361 L648.8,363.617 M645.6,375.617 L645.6,383.6 M649.4,375.617 L649.4,383.6" stroke="#777" stroke-width="0.8"/>
<circle cx="647.5" cy="369.617" r="6.4" fill="#fff" stroke="#666" stroke-width="1.1"/>
<circle cx="647.5" cy="369.617" r="4.3" fill="none" stroke="#777" stroke-width="1"/>
<circle cx="647.5" cy="369.617" r="1.9" fill="none" stroke="#888" stroke-width="0.8"/>
<rect x="662.9" y="356.5" width="4" height="4.5" fill="#fff" stroke="#777" stroke-width="0.7"/>
<path d="M663.6,361 L663.6,363.617 M666.1999999999999,361 L666.1999999999999,363.617 M663.0,375.617 L663.0,383.6 M666.8,375.617 L666.8,383.6" stroke="#777" stroke-width="0.8"/>
<circle cx="664.9" cy="369.617" r="6.4" fill="#fff" stroke="#666" stroke-width="1.1"/>
<circle cx="664.9" cy="369.617" r="4.3" fill="none" stroke="#777" stroke-width="1"/>
<circle cx="664.9" cy="369.617" r="1.9" fill="none" stroke="#888" stroke-width="0.8"/>
<rect x="681.2" y="356.5" width="4" height="4.5" fill="#fff" stroke="#777" stroke-width="0.7"/>
<path d="M681.9000000000001,361 L681.9000000000001,363.617 M684.5,361 L684.5,363.617 M681.3000000000001,375.617 L681.3000000000001,383.6 M685.1,375.617 L685.1,383.6" stroke="#777" stroke-width="0.8"/>
<circle cx="683.2" cy="369.617" r="6.4" fill="#fff" stroke="#666" stroke-width="1.1"/>
<circle cx="683.2" cy="369.617" r="4.3" fill="none" stroke="#777" stroke-width="1"/>
<circle cx="683.2" cy="369.617" r="1.9" fill="none" stroke="#888" stroke-width="0.8"/>
<path d="M636.7,377.6 Q642.5,379.1 645.0,383.1 M650.0,383.1 Q652.5,379.1 656.2,379.6 Q659.9,379.1 662.4,383.1 M667.4,383.1 Q669.9,379.1 674.05,379.6 Q678.2,379.1 680.7,383.1 M685.7,383.1 Q688.2,379.1 695,378.1" fill="none" stroke="#555" stroke-width="1"/>
<rect x="697" y="351.3" width="44" height="34.80000000000001" fill="#fff" stroke="#666" stroke-width="1"/>
<path d="M697,355.3 L741,355.3" stroke="#888" stroke-width="0.7"/>
<rect x="698.98" y="356.3" width="7.04" height="7" fill="#fff" stroke="#777" stroke-width="0.8"/>
<rect x="709.98" y="356.3" width="7.04" height="7" fill="#fff" stroke="#777" stroke-width="0.8"/>
<rect x="720.98" y="356.3" width="7.04" height="7" fill="#fff" stroke="#777" stroke-width="0.8"/>
<rect x="731.98" y="356.3" width="7.04" height="7" fill="#fff" stroke="#777" stroke-width="0.8"/>
<path d="M698.5,364.3 L698.5,384.6 L739.5,384.6" fill="none" stroke="#999" stroke-width="0.7"/>
<g fill="none" stroke="#555" stroke-width="1">
<path d="M153.5,407 Q145.5,407 145.5,399 L145.5,300.5 Q145.5,292.5 153.5,292.5 L297.5,292.5 Q305.8,292.5 305.8,300.5 L305.8,399 Q305.8,407 297.5,407 Z" stroke="#333" stroke-width="1.2"/>
</g>
<g fill="none" stroke="#888" stroke-width="0.8">
<path d="M177.5,292.5 L177.5,314.0 Q177.5,326 165.5,326 L145.5,326"/>
<path d="M273.5,292.5 L273.5,314.0 Q273.5,326 285.5,326 L305.8,326"/>
<path d="M179.3,292.5 L179.3,313.46 Q179.3,327.8 165.5,327.8 L145.5,327.8"/>
<path d="M271.7,292.5 L271.7,313.46 Q271.7,327.8 285.5,327.8 L305.8,327.8"/>
<path d="M181.1,292.5 L181.1,312.92 Q181.1,329.6 165.5,329.6 L145.5,329.6"/>
<path d="M269.9,292.5 L269.9,312.92 Q269.9,329.6 285.5,329.6 L305.8,329.6"/>
<path d="M191.2,292.5 L191.2,318 Q191.2,337.5 175,337.5 M260,292.5 L260,318 Q260,337.5 276,337.5"/>
<path d="M181,303.7 L270,303.7 M181,318 L191.2,318 M260,318 L270,318"/>
<path d="M162.5,333 L289.4,333 M156.9,326 L156.9,407 M162.5,333 L162.5,386 M170,326 L170,339 M289.4,333 L289.4,386 M294.4,326 L294.4,407 M281.2,326 L281.2,339 M145.5,396.3 L305.8,396.3"/>
</g>
<path d="M152,339.4 L299.5,339.4 Q302.5,339.4 302.5,342.4 L302.5,390.8 Q302.5,393.8 299.5,393.8 L152,393.8 Q149,393.8 149,390.8 L149,342.4 Q149,339.4 152,339.4 Z M156.9,355.6 L156.9,386.2 L294.4,386.2 L294.4,355.6 L273.8,355.6 L273.8,346.5 L265,346.5 L265,355.6 L186.5,355.6 L186.5,346.5 L177.8,346.5 L177.8,355.6 Z" fill="#de2420" fill-rule="evenodd"/>
<path d="M156.6,333 L156.6,407 M162.6,333 L162.6,386.2 M289.4,333 L289.4,386.2 M294.6,333 L294.6,407" stroke="#000" stroke-opacity="0.35" stroke-width="0.8"/>
<rect x="166" y="354.4" width="12.50" height="21.2" fill="#fff" stroke="#333" stroke-width="1"/>
<path d="M167.5,355 L168.5,364.4 L176.0,364.4 L177.0,355 M168.5,368 L176.0,368 M167.5,375 L168.5,370 Q172.25,368.5 176.0,370 L177.0,375" fill="none" stroke="#555" stroke-width="0.8"/>
<rect x="192.5" y="354.4" width="13.50" height="21.2" fill="#fff" stroke="#333" stroke-width="1"/>
<path d="M194.0,355 L195.0,364.4 L203.5,364.4 L204.5,355 M195.0,368 L203.5,368 M194.0,375 L195.0,370 Q199.25,368.5 203.5,370 L204.5,375" fill="none" stroke="#555" stroke-width="0.8"/>
<rect x="219.4" y="354.4" width="12.50" height="21.2" fill="#fff" stroke="#333" stroke-width="1"/>
<path d="M220.9,355 L221.9,364.4 L229.4,364.4 L230.4,355 M221.9,368 L229.4,368 M220.9,375 L221.9,370 Q225.65,368.5 229.4,370 L230.4,375" fill="none" stroke="#555" stroke-width="0.8"/>
<rect x="245.4" y="354.4" width="13.35" height="21.2" fill="#fff" stroke="#333" stroke-width="1"/>
<path d="M246.9,355 L247.9,364.4 L256.25,364.4 L257.25,355 M247.9,368 L256.25,368 M246.9,375 L247.9,370 Q252.075,368.5 256.25,370 L257.25,375" fill="none" stroke="#555" stroke-width="0.8"/>
<rect x="272.25" y="354.4" width="12.50" height="21.2" fill="#fff" stroke="#333" stroke-width="1"/>
<path d="M273.75,355 L274.75,364.4 L282.25,364.4 L283.25,355 M274.75,368 L282.25,368 M273.75,375 L274.75,370 Q278.5,368.5 282.25,370 L283.25,375" fill="none" stroke="#555" stroke-width="0.8"/>
<path d="M227.5,321 L227.5,301 L318,301" fill="none" stroke="#161616" stroke-width="1.6"/>
<rect x="312" y="338.3" width="56.7" height="48.4" fill="#fff" stroke="#555" stroke-width="0.6"/>
<path d="M318.7,344 L362.7,344 L362.7,373.3 L353.3,373.3 L353.3,380 L348,380 L348,384 L332.7,384 L332.7,380 L328,380 L328,373.3 L318.7,373.3 Z" fill="none" stroke="#3a3a3a" stroke-width="1.2"/>
<path d="M336,301.5 L406,301.5 L406,307.5 M340.4,320 L340.4,310 L392.5,310 L392.5,322.5" fill="none" stroke="#161616" stroke-width="1.6"/>
<rect x="387" y="351" width="25" height="36" fill="#fff" stroke="#666" stroke-width="1"/>
<path d="M387,355 L412,355" stroke="#888" stroke-width="0.7"/>
<rect x="389.25" y="356" width="8.00" height="7" fill="#fff" stroke="#777" stroke-width="0.8"/>
<rect x="401.75" y="356" width="8.00" height="7" fill="#fff" stroke="#777" stroke-width="0.8"/>
<path d="M388.5,364 L388.5,385.5 L410.5,385.5" fill="none" stroke="#999" stroke-width="0.7"/>
<g fill="none" stroke="#333" stroke-width="1">
<ellipse cx="76" cy="376.4" rx="28" ry="30.3"/>
<ellipse cx="76" cy="376.5" rx="24.4" ry="27.2"/>
<path d="M61.5,350 L61.5,376 A15,13.5 0 0 0 91.5,376 L91.5,350"/>
<ellipse cx="76.5" cy="376" rx="15" ry="13.3"/>
</g>
<path d="M126.7,372 L126.7,385 M117.7,385 L135.7,385 M120.5,385 L117.5,389 M126,385 L123,389 M131.5,385 L128.5,389" fill="none" stroke="#333" stroke-width="1"/>
<text x="90.50" y="164.46" font-size="9.6" font-weight="bold" fill="#161616" stroke="#161616" stroke-width="0.35" text-anchor="middle" textLength="32.5" lengthAdjust="spacingAndGlyphs">Remote</text>
<text x="90.00" y="174.76" font-size="9.6" font-weight="bold" fill="#161616" stroke="#161616" stroke-width="0.35" text-anchor="middle" textLength="20" lengthAdjust="spacingAndGlyphs">Mute</text>
<text x="147.30" y="163.06" font-size="9.6" font-weight="bold" fill="#161616" stroke="#161616" stroke-width="0.35" text-anchor="middle" textLength="23.4" lengthAdjust="spacingAndGlyphs">Tel-In</text>
<text x="197.60" y="162.86" font-size="9.6" font-weight="bold" fill="#161616" stroke="#161616" stroke-width="0.35" text-anchor="middle" textLength="26.8" lengthAdjust="spacingAndGlyphs">Chime</text>
<text x="267.00" y="162.96" font-size="9.6" font-weight="bold" fill="#161616" stroke="#161616" stroke-width="0.35" text-anchor="middle" textLength="38.7" lengthAdjust="spacingAndGlyphs">MOH Out</text>
<text x="131.70" y="208.42" font-size="9.5" font-weight="bold" fill="#161616" stroke="#161616" stroke-width="0.35" text-anchor="middle">0</text>
<text x="164.00" y="208.42" font-size="9.5" font-weight="bold" fill="#161616" stroke="#161616" stroke-width="0.35" text-anchor="middle">11</text>
<text x="179.00" y="208.42" font-size="9.5" font-weight="bold" fill="#161616" stroke="#161616" stroke-width="0.35" text-anchor="middle">0</text>
<text x="212.60" y="208.42" font-size="9.5" font-weight="bold" fill="#161616" stroke="#161616" stroke-width="0.35" text-anchor="middle">11</text>
<text x="226.00" y="208.42" font-size="9.5" font-weight="bold" fill="#161616" stroke="#161616" stroke-width="0.35" text-anchor="middle">0</text>
<text x="258.70" y="208.42" font-size="9.5" font-weight="bold" fill="#161616" stroke="#161616" stroke-width="0.35" text-anchor="middle">11</text>
<text x="275.00" y="208.42" font-size="9.5" font-weight="bold" fill="#161616" stroke="#161616" stroke-width="0.35" text-anchor="middle">0</text>
<text x="307.50" y="208.42" font-size="9.5" font-weight="bold" fill="#161616" stroke="#161616" stroke-width="0.35" text-anchor="middle">11</text>
<text x="147.00" y="218.96" font-size="9.6" font-weight="bold" fill="#161616" stroke="#161616" stroke-width="0.35" text-anchor="middle" textLength="22" lengthAdjust="spacingAndGlyphs">Level</text>
<text x="199.00" y="218.96" font-size="9.6" font-weight="bold" fill="#161616" stroke="#161616" stroke-width="0.35" text-anchor="middle" textLength="22" lengthAdjust="spacingAndGlyphs">Level</text>
<text x="245.00" y="219.46" font-size="9.6" font-weight="bold" fill="#161616" stroke="#161616" stroke-width="0.35" text-anchor="middle" textLength="30" lengthAdjust="spacingAndGlyphs">8-Ohm</text>
<text x="287.20" y="219.46" font-size="9.6" font-weight="bold" fill="#161616" stroke="#161616" stroke-width="0.35" text-anchor="middle" textLength="40.5" lengthAdjust="spacingAndGlyphs">600-Ohm</text>
<text x="268.00" y="150.46" font-size="9.6" font-weight="bold" fill="#161616" stroke="#161616" stroke-width="0.35" text-anchor="middle" textLength="118" lengthAdjust="spacingAndGlyphs">Input 3 to Music-On-Hold</text>
<text x="365.60" y="167.96" font-size="9.6" font-weight="bold" fill="#161616" stroke="#161616" stroke-width="0.35" text-anchor="middle" textLength="31" lengthAdjust="spacingAndGlyphs">Pre Out</text>
<text x="380.40" y="285.96" font-size="9.6" font-weight="bold" fill="#161616" stroke="#161616" stroke-width="0.35" text-anchor="middle" textLength="28.3" lengthAdjust="spacingAndGlyphs">Amp In</text>
<text x="472.70" y="167.54" font-size="14" font-weight="bold" fill="#161616" stroke="#161616" stroke-width="0.35" text-anchor="middle">3</text>
<text x="574.00" y="168.54" font-size="14" font-weight="bold" fill="#161616" stroke="#161616" stroke-width="0.35" text-anchor="middle">2</text>
<text x="692.00" y="168.54" font-size="14" font-weight="bold" fill="#161616" stroke="#161616" stroke-width="0.35" text-anchor="middle">1</text>
<text x="492.40" y="195.22" font-size="9.5" font-weight="bold" fill="#161616" stroke="#161616" stroke-width="0.35" text-anchor="middle" textLength="41.2" lengthAdjust="spacingAndGlyphs">Input Level</text>
<text x="591.50" y="195.22" font-size="9.5" font-weight="bold" fill="#161616" stroke="#161616" stroke-width="0.35" text-anchor="middle" textLength="41.2" lengthAdjust="spacingAndGlyphs">Input Level</text>
<text x="693.00" y="195.22" font-size="9.5" font-weight="bold" fill="#161616" stroke="#161616" stroke-width="0.35" text-anchor="middle" textLength="41.2" lengthAdjust="spacingAndGlyphs">Input Level</text>
<text x="740.70" y="195.22" font-size="9.5" font-weight="bold" fill="#161616" stroke="#161616" stroke-width="0.35" text-anchor="middle" textLength="33.5" lengthAdjust="spacingAndGlyphs">Vox Sens</text>
<text x="481.00" y="253.42" font-size="9.5" font-weight="bold" fill="#161616" stroke="#161616" stroke-width="0.35" text-anchor="middle">0</text>
<text x="511.00" y="253.42" font-size="9.5" font-weight="bold" fill="#161616" stroke="#161616" stroke-width="0.35" text-anchor="middle">11</text>
<text x="580.50" y="252.42" font-size="9.5" font-weight="bold" fill="#161616" stroke="#161616" stroke-width="0.35" text-anchor="middle">0</text>
<text x="610.00" y="252.42" font-size="9.5" font-weight="bold" fill="#161616" stroke="#161616" stroke-width="0.35" text-anchor="middle">11</text>
<text x="680.00" y="252.42" font-size="9.5" font-weight="bold" fill="#161616" stroke="#161616" stroke-width="0.35" text-anchor="middle">0</text>
<text x="711.00" y="252.42" font-size="9.5" font-weight="bold" fill="#161616" stroke="#161616" stroke-width="0.35" text-anchor="middle">11</text>
<text x="444.80" y="285.92" font-size="9.5" font-weight="bold" fill="#161616" stroke="#161616" stroke-width="0.35" text-anchor="middle" textLength="50.5" lengthAdjust="spacingAndGlyphs">Unbalanced</text>
<text x="547.00" y="286.92" font-size="9.5" font-weight="bold" fill="#161616" stroke="#161616" stroke-width="0.35" text-anchor="middle" textLength="50.5" lengthAdjust="spacingAndGlyphs">Unbalanced</text>
<text x="648.40" y="287.22" font-size="9.5" font-weight="bold" fill="#161616" stroke="#161616" stroke-width="0.35" text-anchor="middle" textLength="50.5" lengthAdjust="spacingAndGlyphs">Unbalanced</text>
<path d="M121.8,281 L129.4,281 M125.6,277.2 L125.6,284.8" stroke="#161616" stroke-width="2.3"/>
<path d="M141.79999999999998,281 L149.4,281" stroke="#161616" stroke-width="2.3"/>
<text x="165.00" y="284.24" font-size="9" font-weight="bold" fill="#161616" stroke="#161616" stroke-width="0.35" text-anchor="middle">G</text>
<path d="M233.2,281 L240.8,281 M237,277.2 L237,284.8" stroke="#161616" stroke-width="2.3"/>
<path d="M251.79999999999998,281 L259.4,281" stroke="#161616" stroke-width="2.3"/>
<path d="M268.7,281 L276.3,281 M272.5,277.2 L272.5,284.8" stroke="#161616" stroke-width="2.3"/>
<path d="M288.2,281 L295.8,281" stroke="#161616" stroke-width="2.3"/>
<text x="249.40" y="292.96" font-size="9.6" font-weight="bold" fill="#161616" stroke="#161616" stroke-width="0.35" text-anchor="middle">1W</text>
<text x="281.00" y="292.96" font-size="9.6" font-weight="bold" fill="#161616" stroke="#161616" stroke-width="0.35" text-anchor="middle">1V</text>
<path d="M434.09999999999997,399.8 L441.7,399.8 M437.9,396.0 L437.9,403.6" stroke="#161616" stroke-width="2.3"/>
<path d="M454.3,399.8 L461.90000000000003,399.8" stroke="#161616" stroke-width="2.3"/>
<text x="477.40" y="403.22" font-size="9.5" font-weight="bold" fill="#161616" stroke="#161616" stroke-width="0.35" text-anchor="middle">G</text>
<text x="456.70" y="410.54" font-size="9" font-weight="bold" fill="#161616" stroke="#161616" stroke-width="0.35" text-anchor="middle" textLength="34" lengthAdjust="spacingAndGlyphs">Balanced</text>
<path d="M537.8000000000001,399.8 L545.4,399.8 M541.6,396.0 L541.6,403.6" stroke="#161616" stroke-width="2.3"/>
<path d="M558.0,399.8 L565.5999999999999,399.8" stroke="#161616" stroke-width="2.3"/>
<text x="581.00" y="403.22" font-size="9.5" font-weight="bold" fill="#161616" stroke="#161616" stroke-width="0.35" text-anchor="middle">G</text>
<text x="560.00" y="410.54" font-size="9" font-weight="bold" fill="#161616" stroke="#161616" stroke-width="0.35" text-anchor="middle" textLength="34" lengthAdjust="spacingAndGlyphs">Balanced</text>
<path d="M641.9000000000001,399.8 L649.5,399.8 M645.7,396.0 L645.7,403.6" stroke="#161616" stroke-width="2.3"/>
<path d="M662.0,399.8 L669.5999999999999,399.8" stroke="#161616" stroke-width="2.3"/>
<text x="685.10" y="403.22" font-size="9.5" font-weight="bold" fill="#161616" stroke="#161616" stroke-width="0.35" text-anchor="middle">G</text>
<text x="664.50" y="410.54" font-size="9" font-weight="bold" fill="#161616" stroke="#161616" stroke-width="0.35" text-anchor="middle" textLength="34" lengthAdjust="spacingAndGlyphs">Balanced</text>
<g transform="translate(498.50,349.50) rotate(-90)"><text x="0" y="2.88" font-size="8" font-weight="bold" fill="#161616" stroke="#161616" stroke-width="0.3" text-anchor="start" textLength="27.5" lengthAdjust="spacingAndGlyphs">48v PHT</text></g>
<g transform="translate(510.40,349.50) rotate(-90)"><text x="0" y="2.88" font-size="8" font-weight="bold" fill="#161616" stroke="#161616" stroke-width="0.3" text-anchor="start" textLength="27.5" lengthAdjust="spacingAndGlyphs">Mic/Line</text></g>
<g transform="translate(601.20,349.50) rotate(-90)"><text x="0" y="2.88" font-size="8" font-weight="bold" fill="#161616" stroke="#161616" stroke-width="0.3" text-anchor="start" textLength="27.5" lengthAdjust="spacingAndGlyphs">48v PHT</text></g>
<g transform="translate(612.20,349.50) rotate(-90)"><text x="0" y="2.88" font-size="8" font-weight="bold" fill="#161616" stroke="#161616" stroke-width="0.3" text-anchor="start" textLength="27.5" lengthAdjust="spacingAndGlyphs">Mic/Line</text></g>
<g transform="translate(705.20,349.40) rotate(-90)"><text x="0" y="2.88" font-size="8" font-weight="bold" fill="#161616" stroke="#161616" stroke-width="0.3" text-anchor="start" textLength="27.5" lengthAdjust="spacingAndGlyphs">48v PHT</text></g>
<g transform="translate(715.30,349.40) rotate(-90)"><text x="0" y="2.88" font-size="8" font-weight="bold" fill="#161616" stroke="#161616" stroke-width="0.3" text-anchor="start" textLength="27.5" lengthAdjust="spacingAndGlyphs">Mic/Line</text></g>
<g transform="translate(724.50,349.40) rotate(-90)"><text x="0" y="2.88" font-size="8" font-weight="bold" fill="#161616" stroke="#161616" stroke-width="0.3" text-anchor="start" textLength="32" lengthAdjust="spacingAndGlyphs">100Hz HPF</text></g>
<g transform="translate(732.70,349.40) rotate(-90)"><text x="0" y="2.88" font-size="8" font-weight="bold" fill="#161616" stroke="#161616" stroke-width="0.3" text-anchor="start" textLength="23" lengthAdjust="spacingAndGlyphs">Priority</text></g>
<g transform="translate(394.30,337.50) rotate(-90)"><text x="0" y="2.88" font-size="8" font-weight="bold" fill="#161616" stroke="#161616" stroke-width="0.3" text-anchor="middle" textLength="23.4" lengthAdjust="spacingAndGlyphs">Priority</text></g>
<g transform="translate(406.70,330.00) rotate(-90)"><text x="0" y="2.88" font-size="8" font-weight="bold" fill="#161616" stroke="#161616" stroke-width="0.3" text-anchor="middle" textLength="38.4" lengthAdjust="spacingAndGlyphs">300Hz HPF</text></g>
<text x="196.90" y="332.26" font-size="9.6" font-weight="bold" fill="#161616" stroke="#161616" stroke-width="0.35" text-anchor="middle" textLength="33.7" lengthAdjust="spacingAndGlyphs">Speaker</text>
<text x="231.80" y="332.26" font-size="9.6" font-weight="bold" fill="#161616" stroke="#161616" stroke-width="0.35" text-anchor="middle" textLength="27.5" lengthAdjust="spacingAndGlyphs">Output</text>
<text x="260.00" y="332.26" font-size="9.6" font-weight="bold" fill="#161616" stroke="#161616" stroke-width="0.35" text-anchor="middle" textLength="20" lengthAdjust="spacingAndGlyphs">40W</text>
<text x="163.80" y="403.42" font-size="9.5" font-weight="bold" fill="#161616" stroke="#161616" stroke-width="0.35" text-anchor="middle">C</text>
<text x="189.40" y="403.42" font-size="9.5" font-weight="bold" fill="#161616" stroke="#161616" stroke-width="0.35" text-anchor="middle">4 &#937;</text>
<text x="218.00" y="403.42" font-size="9.5" font-weight="bold" fill="#161616" stroke="#161616" stroke-width="0.35" text-anchor="middle">25V</text>
<text x="247.80" y="403.42" font-size="9.5" font-weight="bold" fill="#161616" stroke="#161616" stroke-width="0.35" text-anchor="middle">70V</text>
<text x="279.40" y="403.42" font-size="9.5" font-weight="bold" fill="#161616" stroke="#161616" stroke-width="0.35" text-anchor="middle">100V</text>
<text x="340.50" y="403.02" font-size="9.5" font-weight="bold" fill="#161616" stroke="#161616" stroke-width="0.35" text-anchor="middle" textLength="41" lengthAdjust="spacingAndGlyphs">PRO-RVC</text>
<text x="93.70" y="330.02" font-size="9.5" font-weight="bold" fill="#161616" stroke="#161616" stroke-width="0.35" text-anchor="middle" textLength="57.5" lengthAdjust="spacingAndGlyphs">AC120V~60Hz</text>
<text x="93.00" y="338.92" font-size="9.5" font-weight="bold" fill="#161616" stroke="#161616" stroke-width="0.35" text-anchor="middle" textLength="21.6" lengthAdjust="spacingAndGlyphs">120W</text>
<path d="M247.3,404.5 L248.6,408.5 L246.8,408.5 L248.2,412.5 M278.9,404.5 L280.2,408.5 L278.4,408.5 L279.8,412.5" fill="none" stroke="#161616" stroke-width="1.4"/>
</svg>
<div class="cap">Products are custom made, real images cannot be shown</div>
</body></html>
